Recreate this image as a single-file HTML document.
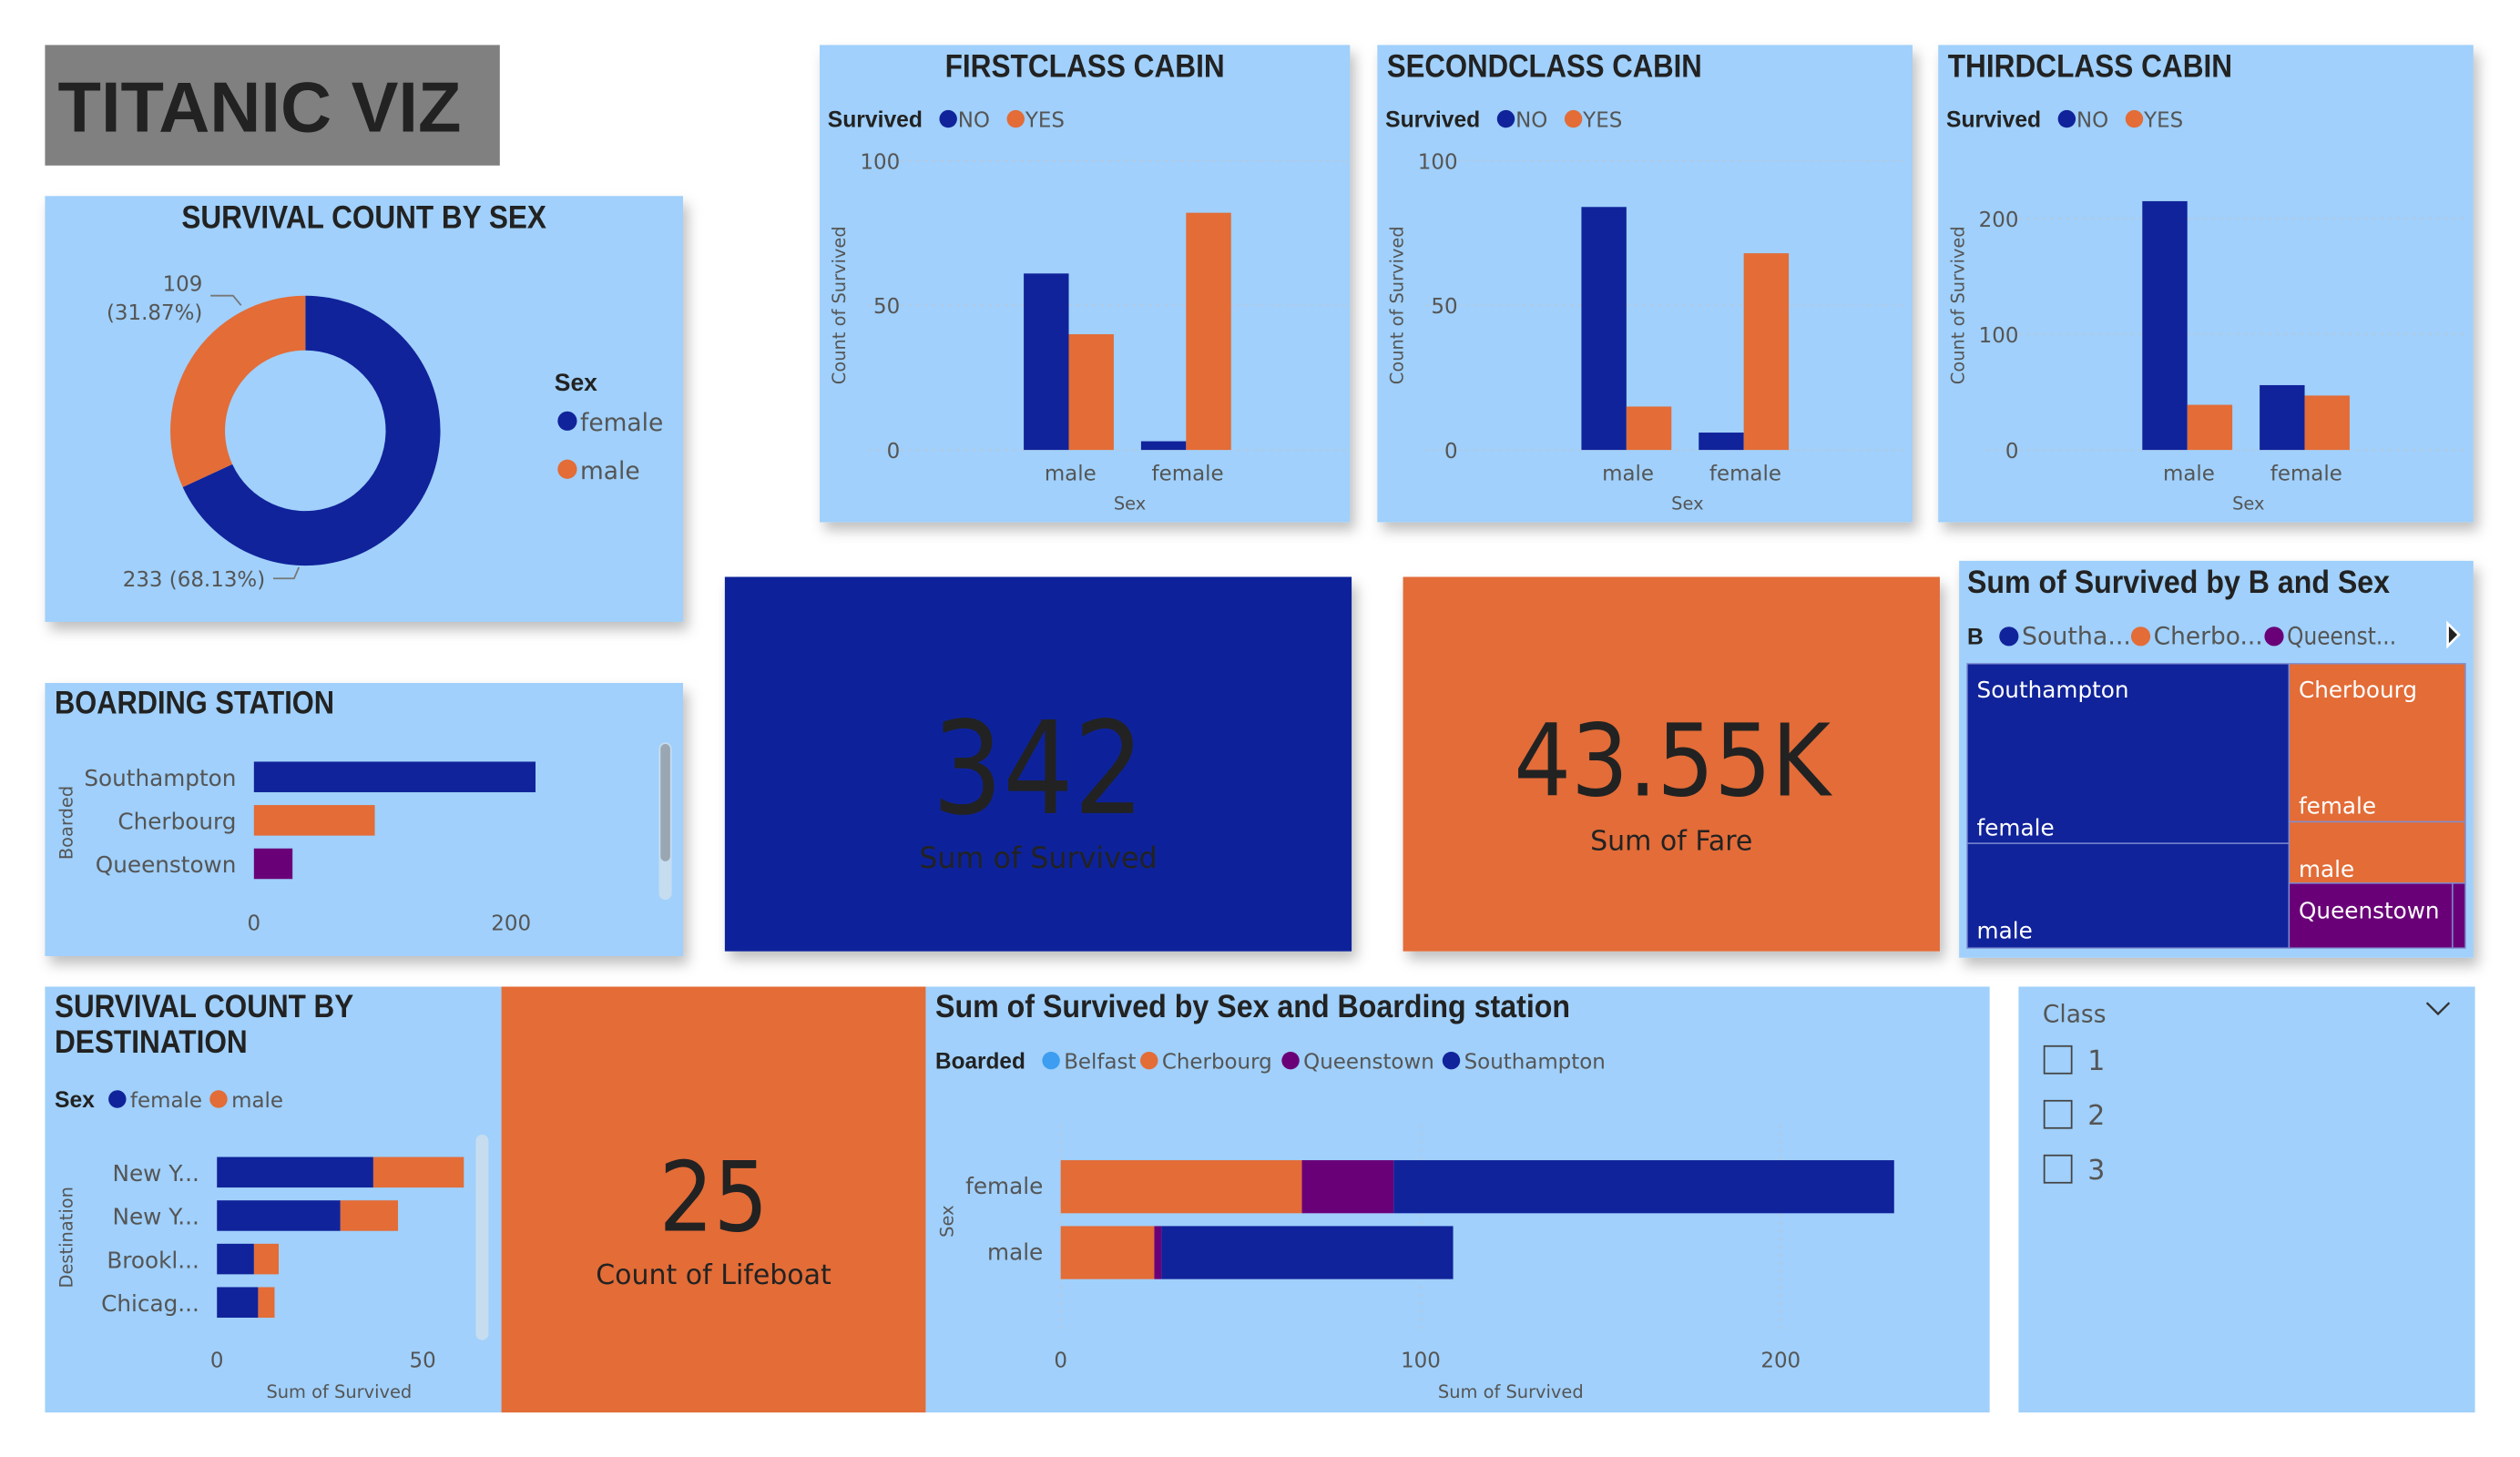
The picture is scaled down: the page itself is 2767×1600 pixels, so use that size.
<!DOCTYPE html>
<html><head><meta charset="utf-8"><title>Titanic Viz</title>
<style>
html,body{margin:0;padding:0;background:#fff;overflow:hidden}
svg{display:block}
.t{font-family:"Liberation Sans",sans-serif;font-weight:bold;fill:#222}
.s{font-family:"DejaVu Sans","Liberation Sans",sans-serif;fill:#555}
</style></head><body>
<svg id="root" width="2767" height="1600" viewBox="0 0 1568 906.7" preserveAspectRatio="none" xmlns="http://www.w3.org/2000/svg">
<defs><filter id="sh" x="-5%" y="-5%" width="115%" height="120%"><feDropShadow dx="3" dy="5" stdDeviation="4" flood-color="#000" flood-opacity="0.25"/></filter></defs>
<rect x="28" y="28" width="283" height="75" fill="#808080"/>
<text x="36" y="82" class="t" font-size="44" textLength="251" lengthAdjust="spacingAndGlyphs">TITANIC VIZ</text>
<g filter="url(#sh)">
<rect x="28" y="122" width="397" height="265" fill="#a0d0fb"/>
<rect x="510" y="28" width="330" height="297" fill="#a0d0fb"/>
<rect x="857" y="28" width="333" height="297" fill="#a0d0fb"/>
<rect x="1206" y="28" width="333" height="297" fill="#a0d0fb"/>
<rect x="451" y="359" width="390" height="233" fill="#10239a"/>
<rect x="873" y="359" width="334" height="233" fill="#e36c37"/>
<rect x="1219" y="349" width="320" height="247" fill="#a0d0fb"/>
<rect x="28" y="425" width="397" height="170" fill="#a0d0fb"/>
</g>
<rect x="28" y="614" width="284" height="265" fill="#a0d0fb"/>
<rect x="312" y="614" width="264" height="265" fill="#e36c37"/>
<rect x="576" y="614" width="662" height="265" fill="#a0d0fb"/>
<rect x="1256" y="614" width="284" height="265" fill="#a0d0fb"/>

<text x="580" y="506" textLength="132" lengthAdjust="spacingAndGlyphs" font-family="DejaVu Sans Condensed,DejaVu Sans,sans-serif" font-size="80" fill="#222">342</text>
<text x="646" y="540" text-anchor="middle" font-family="DejaVu Sans,sans-serif" font-size="18" fill="#222">Sum of Survived</text>
<text x="942" y="495" textLength="197" lengthAdjust="spacingAndGlyphs" font-family="DejaVu Sans Condensed,DejaVu Sans,sans-serif" font-size="62" fill="#222">43.55K</text>
<text x="1040" y="529" text-anchor="middle" font-family="DejaVu Sans,sans-serif" font-size="17" fill="#222">Sum of Fare</text>
<text x="410" y="766" textLength="68" lengthAdjust="spacingAndGlyphs" font-family="DejaVu Sans Condensed,DejaVu Sans,sans-serif" font-size="60" fill="#222">25</text>
<text x="444" y="799" text-anchor="middle" font-family="DejaVu Sans,sans-serif" font-size="17" fill="#222">Count of Lifeboat</text>

<text x="1271" y="636" class="s" font-size="15" fill="#333">Class</text>
<path d="M1510 624 l7 7 l7 -7" fill="none" stroke="#333" stroke-width="1.3"/>
<g><rect x="1272" y="651" width="17" height="17" fill="none" stroke="#444"/><text x="1299" y="666" class="s" font-size="17" fill="#333">1</text></g>
<g><rect x="1272" y="685" width="17" height="17" fill="none" stroke="#444"/><text x="1299" y="700" class="s" font-size="17" fill="#333">2</text></g>
<g><rect x="1272" y="719" width="17" height="17" fill="none" stroke="#444"/><text x="1299" y="734" class="s" font-size="17" fill="#333">3</text></g>

<g id="dyn"></g>
</svg>
<script>
// ---- data ----
var cabinCats = ["male","female"];
var firstNo = [61, 3];
var firstYes = [40, 82];
var secondNo = [84, 6];
var secondYes = [15, 68];
var thirdNo = [215, 56];
var thirdYes = [39, 47];
var firstTicks = [0, 50, 100];
var thirdTicks = [0, 100, 200];
var donutLabels = ["female","male"];
var donutValues = [233, 109];
var boardCats = ["Southampton","Cherbourg","Queenstown"];
var boardValues = [219, 94, 30];
var boardTicks = [0, 200];
var destCats = ["New Y...","New Y...","Brookl...","Chicag..."];
var destFemale = [38, 30, 9, 10];
var destMale = [22, 14, 6, 4];
var destTicks = [0, 50];
var stackCats = ["female","male"];
var stackBelfast = [0, 0];
var stackCherbourg = [67, 26];
var stackQueenstown = [25.5, 2];
var stackSouthampton = [139, 81];
var stackTicks = [0, 100, 200];
var treeStations = ["Southampton","Cherbourg","Queenstown"];
var treeFemale = [139, 67, 25.5];
var treeMale = [81, 26, 2];

var BLUE="#10239a", ORANGE="#e36c37", PURPLE="#6a0078", LBLUE="#3d9df0";
var NS="http://www.w3.org/2000/svg";
var dyn=document.getElementById("dyn");
function mk(tag, a, txt){var e=document.createElementNS(NS,tag);for(var k in a)e.setAttribute(k,a[k]);if(txt!==undefined)e.textContent=txt;dyn.appendChild(e);return e;}

function cabin(px, title, titleX, titleW, no, yes, ticks, max, nm){
  var y0=280, y1=100;
  function Y(v){return y0-(v/max)*(y0-y1);}
  var t=mk("text",{x:titleX,y:48,"class":"t","font-size":20,textLength:titleW,lengthAdjust:"spacingAndGlyphs"},title);
  
  
  var lg=mk("text",{x:px+5,y:79,"class":"t","font-size":14,fill:"#555",textLength:59,lengthAdjust:"spacingAndGlyphs"},"Survived");
  
  
  var c1=mk("circle",{cx:px+80,cy:74,r:5.5,fill:BLUE});
  
  
  var l1=mk("text",{x:px+86,y:79,"class":"s","font-size":13},"NO");
  
  
  var c2=mk("circle",{cx:px+122,cy:74,r:5.5,fill:ORANGE});
  
  
  var l2=mk("text",{x:px+128,y:79,"class":"s","font-size":13},"YES");
  
  
  ticks.forEach(function(tv){
    var g=mk("line",{x1:px+30,x2:px+328,y1:Y(tv),y2:Y(tv),stroke:"#b8c8d8","stroke-dasharray":"2,3","stroke-width":0.8});
    
    
    var tl=mk("text",{x:px+50,y:Y(tv)+5,"text-anchor":"end","class":"s","font-size":13},String(tv));
    
    
  });
  var yt=mk("text",{transform:"translate("+(px+16)+",190) rotate(-90)","text-anchor":"middle","class":"s","font-size":11,fill:"#333"},"Count of Survived");
  
  
  var centers=[px+155, px+228];
  cabinCats.forEach(function(c,i){
    var b1=mk("rect",{x:centers[i]-28,y:Y(no[i]),width:28,height:y0-Y(no[i]),fill:BLUE});
    
    
    var b2=mk("rect",{x:centers[i],y:Y(yes[i]),width:28,height:y0-Y(yes[i]),fill:ORANGE});
    
    
    var xl=mk("text",{x:centers[i]+1,y:299,"text-anchor":"middle","class":"s","font-size":13},c);
    
    
  });
  var xt=mk("text",{x:px+193,y:317,"text-anchor":"middle","class":"s","font-size":11,fill:"#333"},"Sex");
  
  
}
cabin(510,"FIRSTCLASS CABIN",588,174,firstNo,firstYes,firstTicks,100,"firstclass");
cabin(857,"SECONDCLASS CABIN",863,196,secondNo,secondYes,firstTicks,100,"secondclass");
cabin(1206,"THIRDCLASS CABIN",1212,177,thirdNo,thirdYes,thirdTicks,250,"thirdclass");

(function(){
  var dt=mk("text",{x:113,y:142,"class":"t","font-size":20,textLength:227,lengthAdjust:"spacingAndGlyphs"},"SURVIVAL COUNT BY SEX");
  
  
  var cx=190, cy=268, R=84, r=50, tot=donutValues[0]+donutValues[1], a=0, cols=[BLUE,ORANGE];
  donutValues.forEach(function(v,i){
    var a2=a+v/tot*2*Math.PI;
    function P(rad,ang){return [cx+rad*Math.sin(ang), cy-rad*Math.cos(ang)];}
    var p1=P(R,a),p2=P(R,a2),p3=P(r,a2),p4=P(r,a),lg=(a2-a)>Math.PI?1:0;
    var s=mk("path",{d:"M"+p1+"A"+R+","+R+" 0 "+lg+" 1 "+p2+"L"+p3+"A"+r+","+r+" 0 "+lg+" 0 "+p4+"Z",fill:cols[i]});
    
    
    a=a2;
  });
  var pct=donutValues.map(function(v){return (v/tot*100).toFixed(2);});
  var t1=mk("text",{x:126,y:181,"text-anchor":"end","class":"s","font-size":13},String(donutValues[1]));
  
  
  var t2=mk("text",{x:126,y:199,"text-anchor":"end","class":"s","font-size":13},"("+pct[1]+"%)");
  
  
  var ln1=mk("path",{d:"M131 184 H145 L150 190",fill:"none",stroke:"#777"});
  
  
  var t3=mk("text",{x:165,y:365,"text-anchor":"end","class":"s","font-size":13},donutValues[0]+" ("+pct[0]+"%)");
  
  
  var ln2=mk("path",{d:"M170 360 H183 L186 353",fill:"none",stroke:"#777"});
  
  
  var lt=mk("text",{x:345,y:243,"class":"t","font-size":15,fill:"#555"},"Sex");
  
  
  donutLabels.forEach(function(l,i){
    var c=mk("circle",{cx:353,cy:262+i*30,r:6,fill:cols[i]});
    
    
    var tx=mk("text",{x:361,y:268+i*30,"class":"s","font-size":15},l);
    
    
  });
})();

(function(){
  var x0=158, k=0.8;
  function X(v){return x0+v*k;}
  var bt=mk("text",{x:34,y:444,"class":"t","font-size":20,textLength:174,lengthAdjust:"spacingAndGlyphs"},"BOARDING STATION");
  
  
  var yt=mk("text",{transform:"translate(45,512) rotate(-90)","text-anchor":"middle","class":"s","font-size":11,fill:"#333"},"Boarded");
  
  
  var cols=[BLUE,ORANGE,PURPLE];
  boardCats.forEach(function(c,i){
    var y=474+i*27;
    var b=mk("rect",{x:X(0),y:y,width:X(boardValues[i])-X(0),height:19,fill:cols[i]});
    
    
    var l=mk("text",{x:147,y:y+15,"text-anchor":"end","class":"s","font-size":14},c);
    
    
  });
  boardTicks.forEach(function(tv){
    var l=mk("text",{x:X(tv),y:579,"text-anchor":"middle","class":"s","font-size":13},String(tv));
    
    
  });
  var sb=mk("rect",{x:410,y:462,width:8,height:98,rx:4,fill:"#c6dcef"});
  
  
  var th=mk("rect",{x:411,y:463,width:6,height:73,rx:3,fill:"#9aa6b2"});
  
  
})();

(function(){
  var x0=135, k=2.56;
  function X(v){return x0+v*k;}
  var t1=mk("text",{x:34,y:633,"class":"t","font-size":20,textLength:186,lengthAdjust:"spacingAndGlyphs"},"SURVIVAL COUNT BY");
  
  
  var t2=mk("text",{x:34,y:655,"class":"t","font-size":20,textLength:120,lengthAdjust:"spacingAndGlyphs"},"DESTINATION");
  
  
  var lt=mk("text",{x:34,y:689,"class":"t","font-size":14,fill:"#555"},"Sex");
  
  
  var c1=mk("circle",{cx:73,cy:684,r:5.5,fill:BLUE});
  
  
  var l1=mk("text",{x:81,y:689,"class":"s","font-size":13},"female");
  
  
  var c2=mk("circle",{cx:136,cy:684,r:5.5,fill:ORANGE});
  
  
  var l2=mk("text",{x:144,y:689,"class":"s","font-size":13},"male");
  
  
  var yt=mk("text",{transform:"translate(45,770) rotate(-90)","text-anchor":"middle","class":"s","font-size":11,fill:"#333"},"Destination");
  
  
  destCats.forEach(function(c,i){
    var y=720+i*27;
    var b1=mk("rect",{x:X(0),y:y,width:X(destFemale[i])-X(0),height:19,fill:BLUE});
    
    
    var b2=mk("rect",{x:X(destFemale[i]),y:y,width:X(destFemale[i]+destMale[i])-X(destFemale[i]),height:19,fill:ORANGE});
    
    
    var l=mk("text",{x:124,y:y+15,"text-anchor":"end","class":"s","font-size":14},c);
    
    
  });
  destTicks.forEach(function(tv){
    var l=mk("text",{x:X(tv),y:851,"text-anchor":"middle","class":"s","font-size":13},String(tv));
    
    
  });
  var xt=mk("text",{x:211,y:870,"text-anchor":"middle","class":"s","font-size":11,fill:"#333"},"Sum of Survived");
  
  
  var sb=mk("rect",{x:296,y:706,width:8,height:128,rx:4,fill:"#c6dcef"});
  
  
})();

(function(){
  var x0=660, k=2.24;
  function X(v){return x0+v*k;}
  var t=mk("text",{x:582,y:633,"class":"t","font-size":20,textLength:395,lengthAdjust:"spacingAndGlyphs"},"Sum of Survived by Sex and Boarding station");
  
  
  var lt=mk("text",{x:582,y:665,"class":"t","font-size":14,fill:"#555",textLength:56,lengthAdjust:"spacingAndGlyphs"},"Boarded");
  
  
  var names=["Belfast","Cherbourg","Queenstown","Southampton"], cols=[LBLUE,ORANGE,PURPLE,BLUE], lx=[654,715,803,903];
  names.forEach(function(n,i){
    var c=mk("circle",{cx:lx[i],cy:660,r:5.5,fill:cols[i]});
    
    
    var l=mk("text",{x:lx[i]+8,y:665,"class":"s","font-size":13},n);
    
    
  });
  stackTicks.forEach(function(tv){
    var g=mk("line",{x1:X(tv),x2:X(tv),y1:700,y2:830,stroke:"#b8c8d8","stroke-dasharray":"2,3","stroke-width":0.8});
    
    
    var l=mk("text",{x:X(tv),y:851,"text-anchor":"middle","class":"s","font-size":13},String(tv));
    
    
  });
  var series=[stackBelfast,stackCherbourg,stackQueenstown,stackSouthampton];
  stackCats.forEach(function(c,i){
    var y=722+i*41, acc=0;
    series.forEach(function(s,j){
      if(s[i]>0){
        var b=mk("rect",{x:X(acc),y:y,width:X(acc+s[i])-X(acc),height:33,fill:cols[j]});
        
        
      }
      acc+=s[i];
    });
    var l=mk("text",{x:649,y:y+21,"text-anchor":"end","class":"s","font-size":14},c);
    
    
  });
  var yt=mk("text",{transform:"translate(593,760) rotate(-90)","text-anchor":"middle","class":"s","font-size":11,fill:"#333"},"Sex");
  
  
  var xt=mk("text",{x:940,y:870,"text-anchor":"middle","class":"s","font-size":11,fill:"#333"},"Sum of Survived");
  
  
})();

(function(){
  var t=mk("text",{x:1224,y:369,"class":"t","font-size":20,textLength:263,lengthAdjust:"spacingAndGlyphs"},"Sum of Survived by B and Sex");
  
  
  var lt=mk("text",{x:1224,y:401,"class":"t","font-size":14,fill:"#555"},"B");
  
  
  var cols=[BLUE,ORANGE,PURPLE], short=["Southa...","Cherbo...","Queenst..."], lx=[1250,1332,1415];
  short.forEach(function(n,i){
    var c=mk("circle",{cx:lx[i],cy:396,r:6,fill:cols[i]});
    
    
    var l=mk("text",{x:lx[i]+8,y:401,"class":"s","font-size":15,textLength:68,lengthAdjust:"spacingAndGlyphs"},n);
    
    
  });
  var ar=mk("path",{d:"M1523 388 l7 7 l-7 7z",fill:"#222",stroke:"#fff","stroke-width":1.5});
  
  
  var X0=1224, X1=1534, Y0=413, Y1=590;
  var tot=[0,1,2].map(function(i){return treeFemale[i]+treeMale[i];});
  var all=tot[0]+tot[1]+tot[2];
  var xs=X0+(X1-X0)*tot[0]/all;
  function cell(x,y,w,h,col,nm){var r=mk("rect",{x:x,y:y,width:w,height:h,fill:col,stroke:"#7f8fd0","stroke-width":0.8});}
  function lbl(x,y,s,nm){var l=mk("text",{x:x,y:y,"font-family":"DejaVu Sans,sans-serif","font-size":14,fill:"#fff"},s);}
  var yS=Y0+(Y1-Y0)*treeFemale[0]/tot[0];
  cell(X0,Y0,xs-X0,yS-Y0,BLUE,'treemap-southampton-female');
  cell(X0,yS,xs-X0,Y1-yS,BLUE,'treemap-southampton-male');
  lbl(X0+6,Y0+21,"Southampton",'treemap-label-southampton');
  lbl(X0+6,yS-5,"female",'treemap-label-southampton-female');
  lbl(X0+6,Y1-6,"male",'treemap-label-southampton-male');
  var rest=tot[1]+tot[2];
  var yC=Y0+(Y1-Y0)*tot[1]/rest;
  var yCf=Y0+(yC-Y0)*treeFemale[1]/tot[1];
  cell(xs,Y0,X1-xs,yCf-Y0,ORANGE,'treemap-cherbourg-female');
  cell(xs,yCf,X1-xs,yC-yCf,ORANGE,'treemap-cherbourg-male');
  lbl(xs+6,Y0+21,"Cherbourg",'treemap-label-cherbourg');
  lbl(xs+6,yCf-5,"female",'treemap-label-cherbourg-female');
  lbl(xs+6,yC-4,"male",'treemap-label-cherbourg-male');
  var xq=xs+(X1-xs)*treeFemale[2]/tot[2];
  cell(xs,yC,xq-xs,Y1-yC,PURPLE,'treemap-queenstown-female');
  cell(xq,yC,X1-xq,Y1-yC,PURPLE,'treemap-queenstown-male');
  lbl(xs+6,yC+22,"Queenstown",'treemap-label-queenstown');
})();
</script>
</body></html>
